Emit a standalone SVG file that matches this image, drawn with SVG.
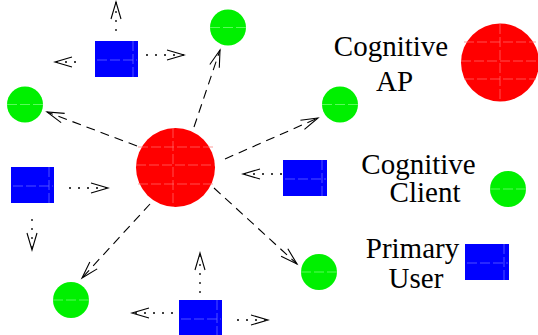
<svg xmlns="http://www.w3.org/2000/svg" width="538" height="335" viewBox="0 0 538 335">
<style>
.ap{fill:#ff0000}
.cc{fill:#00f000}
.pu{fill:#0000ff}
.gr{fill:none;stroke-width:0.7;stroke-dasharray:10,3}
.gr-r{stroke:#ff7070}
.gr-g{stroke:#80ff80}
.gr-b{stroke:#7070ff}
.dash{fill:none;stroke:#000;stroke-width:1.1;stroke-dasharray:9,6;marker-end:url(#ah)}
.dot{fill:none;stroke:#000;stroke-width:1.3;stroke-dasharray:2,7;marker-end:url(#ah)}
.lbl{font-family:"Liberation Serif","Times New Roman",serif;font-size:29px;fill:#000;text-anchor:middle}
</style>
<defs>
<marker id="ah" markerUnits="userSpaceOnUse" markerWidth="20" markerHeight="12" refX="17" refY="5" orient="auto" overflow="visible">
<path d="M0,0 L17,5 L0,10" fill="none" stroke="#000" stroke-width="1.1" stroke-dasharray="none"/>
</marker>
</defs>
<g id="connectors">
<path class="dash" d="M194,127 L220,50"/>
<path class="dash" d="M137,146 L47,112"/>
<path class="dash" d="M225,159 L318,118"/>
<path class="dash" d="M214,188 L297,264"/>
<path class="dash" d="M150,204 L82,278"/>
<path class="dot" d="M116,31 L116,2"/>
<path class="dot" d="M76,62 L55,62"/>
<path class="dot" d="M146,55 L184,55"/>
<path class="dot" d="M69,188 L108,188"/>
<path class="dot" d="M32,219 L32,250"/>
<path class="dot" d="M282,174 L243,174"/>
<path class="dot" d="M200,293 L200,253"/>
<path class="dot" d="M173,313 L132,313"/>
<path class="dot" d="M237,320 L268,320"/>
</g>
<g id="ap-center">
<circle class="ap" cx="175.5" cy="167.5" r="39.5"/>
<path class="gr gr-r" d="M173,128 V207 M138,147 H213 M136,165 H215 M138,184 H213"/>
</g>
<g id="client-top">
<circle class="cc" cx="228" cy="27.5" r="18"/>
<path class="gr gr-g" d="M210,27.5 H246"/>
</g>
<g id="client-left">
<circle class="cc" cx="25" cy="104.5" r="18"/>
<path class="gr gr-g" d="M7,104.5 H43"/>
</g>
<g id="client-right">
<circle class="cc" cx="340" cy="104.5" r="18"/>
<path class="gr gr-g" d="M322,104.5 H358"/>
</g>
<g id="client-bottom-left">
<circle class="cc" cx="71" cy="300" r="18"/>
<path class="gr gr-g" d="M53,300 H89"/>
</g>
<g id="client-bottom-right">
<circle class="cc" cx="319" cy="272" r="18"/>
<path class="gr gr-g" d="M301,272 H337"/>
</g>
<g id="pu-top">
<rect class="pu" x="95" y="41" width="43" height="36"/>
<path class="gr gr-b" d="M133,41 V77 M97,60 H137"/>
</g>
<g id="pu-left">
<rect class="pu" x="11" y="167" width="43" height="36"/>
<path class="gr gr-b" d="M49,167 V203 M13,186 H53"/>
</g>
<g id="pu-right">
<rect class="pu" x="283" y="160" width="44" height="36"/>
<path class="gr gr-b" d="M322,160 V196 M285,179 H326"/>
</g>
<g id="pu-bottom">
<rect class="pu" x="179" y="300" width="43" height="36"/>
<path class="gr gr-b" d="M217,300 V336 M181,319 H221"/>
</g>
<g id="legend-ap">
<text class="lbl" x="391" y="56">Cognitive</text>
<text class="lbl" x="394.5" y="91">AP</text>
<circle class="ap" cx="500" cy="62.5" r="39"/>
<path class="gr gr-r" d="M500,24 V101 M464,42 H536 M461,61 H538 M464,79 H536"/>
</g>
<g id="legend-client">
<text class="lbl" x="418.5" y="174">Cognitive</text>
<text class="lbl" x="425" y="202">Client</text>
<circle class="cc" cx="508" cy="189" r="18"/>
<path class="gr gr-g" d="M490,189 H526"/>
</g>
<g id="legend-pu">
<text class="lbl" x="412.5" y="258">Primary</text>
<text class="lbl" x="416" y="288">User</text>
<rect class="pu" x="465" y="244" width="44" height="36"/>
<path class="gr gr-b" d="M504,244 V280 M467,263 H508"/>
</g>
</svg>
